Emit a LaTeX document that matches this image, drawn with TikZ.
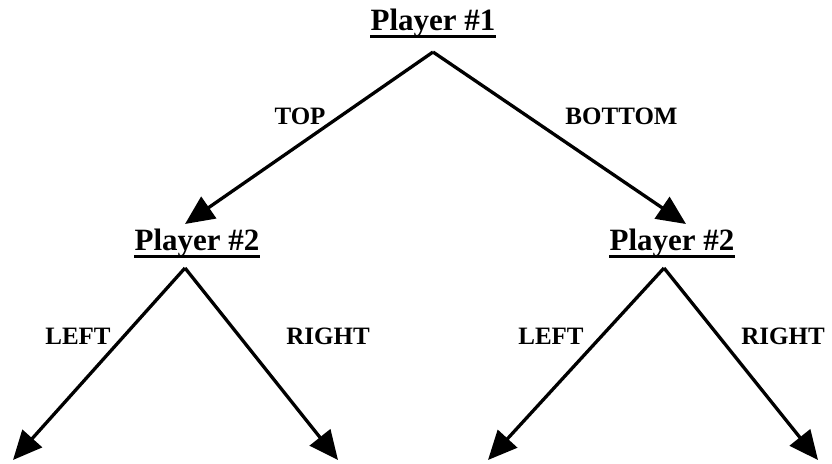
\documentclass[tikz,border=0pt]{standalone}
\usepackage{fontspec}
\setmainfont{Liberation Serif}
\usetikzlibrary{arrows.meta}
\begin{document}
\begin{tikzpicture}[x=1pt,y=-1pt,
  player/.style={inner sep=0pt,anchor=base,font=\bfseries\fontsize{31}{36}\selectfont},
  lbl/.style={inner sep=0pt,anchor=base,font=\bfseries\fontsize{25}{30}\selectfont},
  uline/.style={line width=3.5pt},
  branch/.style={line width=3.3pt,-{Triangle[length=29pt,width=26pt]}}]
\useasboundingbox (0,0) rectangle (832,463);
% players
\node[player] (p1) at (433,30) {Player \#1};
\node[player] (p2l) at (197,250) {Player \#2};
\node[player] (p2r) at (672,250) {Player \#2};
\foreach \n in {p1,p2l,p2r}
  \draw[uline] ([yshift=-6.5pt]\n.base west) -- ([yshift=-6.5pt]\n.base east);
% branch points
\coordinate (a1) at (433,52);
\coordinate (a2l) at (185,268);
\coordinate (a2r) at (664,268);
% tips
\coordinate (t1) at (185,224);
\coordinate (t2) at (686,224);
\coordinate (t3) at (13,460);
\coordinate (t4) at (338,460);
\coordinate (t5) at (488,460);
\coordinate (t6) at (818,460);
\draw[branch] (a1) -- (t1);
\draw[branch] (a1) -- (t2);
\draw[branch] (a2l) -- (t3);
\draw[branch] (a2l) -- (t4);
\draw[branch] (a2r) -- (t5);
\draw[branch] (a2r) -- (t6);
% labels
\node[lbl] (top) at (300,124) {TOP};
\node[lbl] (bottom) at (621.5,124) {BOTTOM};
\node[lbl] (l1) at (78,344) {LEFT};
\node[lbl] (r1) at (328,344) {RIGHT};
\node[lbl] (l2) at (551,344) {LEFT};
\node[lbl] (r2) at (783,344) {RIGHT};
\end{tikzpicture}
\end{document}
